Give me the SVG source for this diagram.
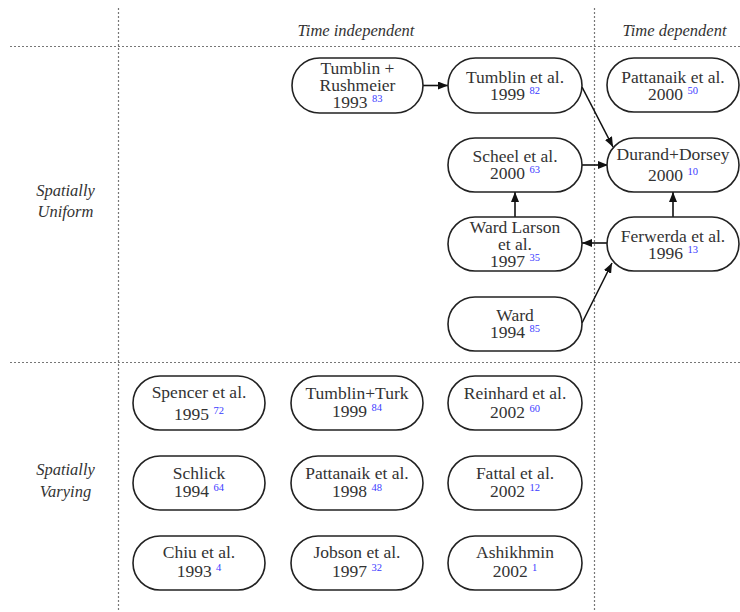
<svg xmlns="http://www.w3.org/2000/svg" width="740" height="612" viewBox="0 0 740 612">
<style>
.grid{stroke:#777;stroke-width:1.2;stroke-dasharray:2 2;fill:none}
.hdr{font-family:"Liberation Serif",serif;font-style:italic;font-size:16.5px;fill:#333;text-anchor:middle}
.box{fill:#fff;stroke:#222;stroke-width:1.6}
.t{font-family:"Liberation Serif",serif;font-size:17.5px;fill:#333;text-anchor:middle}
.sup{font-size:10.5px;fill:#3b3bff}
.edge{stroke:#111;stroke-width:1.6;fill:none;marker-end:url(#ah)}
</style>
<defs>
<marker id="ah" markerWidth="10" markerHeight="8" refX="10" refY="4" orient="auto" markerUnits="userSpaceOnUse">
<path d="M0,0 L10,4 L0,8 z" fill="#111"/>
</marker>
</defs>
<rect width="740" height="612" fill="#fff"/>
<g id="grid">
<line class="grid" x1="118.5" y1="8" x2="118.5" y2="612"/>
<line class="grid" x1="594.5" y1="8" x2="594.5" y2="612"/>
<line class="grid" x1="10" y1="46.5" x2="740" y2="46.5"/>
<line class="grid" x1="10" y1="362.5" x2="740" y2="362.5"/>
</g>
<g id="headers">
<text class="hdr" x="356" y="36">Time independent</text>
<text class="hdr" x="674.5" y="36">Time dependent</text>
<text class="hdr" x="65.5" y="196">Spatially</text>
<text class="hdr" x="65.5" y="217">Uniform</text>
<text class="hdr" x="65.5" y="475">Spatially</text>
<text class="hdr" x="65.5" y="497">Varying</text>
</g>
<g id="connectors">
<line class="edge" x1="423" y1="85.5" x2="448" y2="85.5"/>
<line class="edge" x1="582" y1="87" x2="613" y2="147"/>
<line class="edge" x1="582" y1="165" x2="608" y2="165"/>
<line class="edge" x1="673" y1="217" x2="673" y2="192"/>
<line class="edge" x1="515" y1="217" x2="515" y2="192"/>
<line class="edge" x1="607" y1="243" x2="582" y2="243"/>
<line class="edge" x1="582" y1="323" x2="612" y2="263"/>
</g>
<g id="n_tumblin_rushmeier">
<rect class="box" x="292" y="58" width="131" height="55" rx="27.5"/>
<text class="t" x="357.5" y="74">Tumblin +</text>
<text class="t" x="357.5" y="91">Rushmeier</text>
<text class="t" x="357.5" y="108">1993 <tspan class="sup" dy="-6">83</tspan></text>
</g>
<g id="n_tumblin99">
<rect class="box" x="448" y="58" width="134" height="55" rx="27.5"/>
<text class="t" x="515" y="83">Tumblin et al.</text>
<text class="t" x="515" y="100">1999 <tspan class="sup" dy="-6">82</tspan></text>
</g>
<g id="n_pattanaik2000">
<rect class="box" x="607" y="58" width="132" height="54" rx="27"/>
<text class="t" x="673" y="83">Pattanaik et al.</text>
<text class="t" x="673" y="100">2000 <tspan class="sup" dy="-6">50</tspan></text>
</g>
<g id="n_scheel">
<rect class="box" x="448" y="138" width="134" height="54" rx="27"/>
<text class="t" x="515" y="162">Scheel et al.</text>
<text class="t" x="515" y="179">2000 <tspan class="sup" dy="-6">63</tspan></text>
</g>
<g id="n_durand">
<rect class="box" x="607" y="138" width="132" height="54" rx="27"/>
<text class="t" x="673" y="160">Durand+Dorsey</text>
<text class="t" x="673" y="181">2000 <tspan class="sup" dy="-6">10</tspan></text>
</g>
<g id="n_wardlarson">
<rect class="box" x="448" y="217" width="134" height="54" rx="27"/>
<text class="t" x="515" y="233">Ward Larson</text>
<text class="t" x="515" y="250">et al.</text>
<text class="t" x="515" y="267">1997 <tspan class="sup" dy="-6">35</tspan></text>
</g>
<g id="n_ferwerda">
<rect class="box" x="607" y="217" width="132" height="54" rx="27"/>
<text class="t" x="673" y="242">Ferwerda et al.</text>
<text class="t" x="673" y="259">1996 <tspan class="sup" dy="-6">13</tspan></text>
</g>
<g id="n_ward">
<rect class="box" x="448" y="297" width="134" height="54" rx="27"/>
<text class="t" x="515" y="321">Ward</text>
<text class="t" x="515" y="338">1994 <tspan class="sup" dy="-6">85</tspan></text>
</g>
<g id="n_spencer">
<rect class="box" x="133" y="376" width="132" height="54" rx="27"/>
<text class="t" x="199" y="398">Spencer et al.</text>
<text class="t" x="199" y="420">1995 <tspan class="sup" dy="-6">72</tspan></text>
</g>
<g id="n_tumblinturk">
<rect class="box" x="291" y="376" width="132" height="54" rx="27"/>
<text class="t" x="357" y="399">Tumblin+Turk</text>
<text class="t" x="357" y="417">1999 <tspan class="sup" dy="-6">84</tspan></text>
</g>
<g id="n_reinhard">
<rect class="box" x="448" y="376" width="134" height="54" rx="27"/>
<text class="t" x="515" y="399">Reinhard et al.</text>
<text class="t" x="515" y="418">2002 <tspan class="sup" dy="-6">60</tspan></text>
</g>
<g id="n_schlick">
<rect class="box" x="133" y="456" width="132" height="54" rx="27"/>
<text class="t" x="199" y="479">Schlick</text>
<text class="t" x="199" y="497">1994 <tspan class="sup" dy="-6">64</tspan></text>
</g>
<g id="n_pattanaik1998">
<rect class="box" x="291" y="456" width="132" height="54" rx="27"/>
<text class="t" x="357" y="479">Pattanaik et al.</text>
<text class="t" x="357" y="497">1998 <tspan class="sup" dy="-6">48</tspan></text>
</g>
<g id="n_fattal">
<rect class="box" x="448" y="456" width="134" height="54" rx="27"/>
<text class="t" x="515" y="479">Fattal et al.</text>
<text class="t" x="515" y="497">2002 <tspan class="sup" dy="-6">12</tspan></text>
</g>
<g id="n_chiu">
<rect class="box" x="133" y="536" width="132" height="54" rx="27"/>
<text class="t" x="199" y="558">Chiu et al.</text>
<text class="t" x="199" y="577">1993 <tspan class="sup" dy="-6">4</tspan></text>
</g>
<g id="n_jobson">
<rect class="box" x="291" y="536" width="132" height="54" rx="27"/>
<text class="t" x="357" y="558">Jobson et al.</text>
<text class="t" x="357" y="577">1997 <tspan class="sup" dy="-6">32</tspan></text>
</g>
<g id="n_ashikhmin">
<rect class="box" x="448" y="536" width="134" height="54" rx="27"/>
<text class="t" x="515" y="558">Ashikhmin</text>
<text class="t" x="515" y="577">2002 <tspan class="sup" dy="-6">1</tspan></text>
</g>
</svg>
